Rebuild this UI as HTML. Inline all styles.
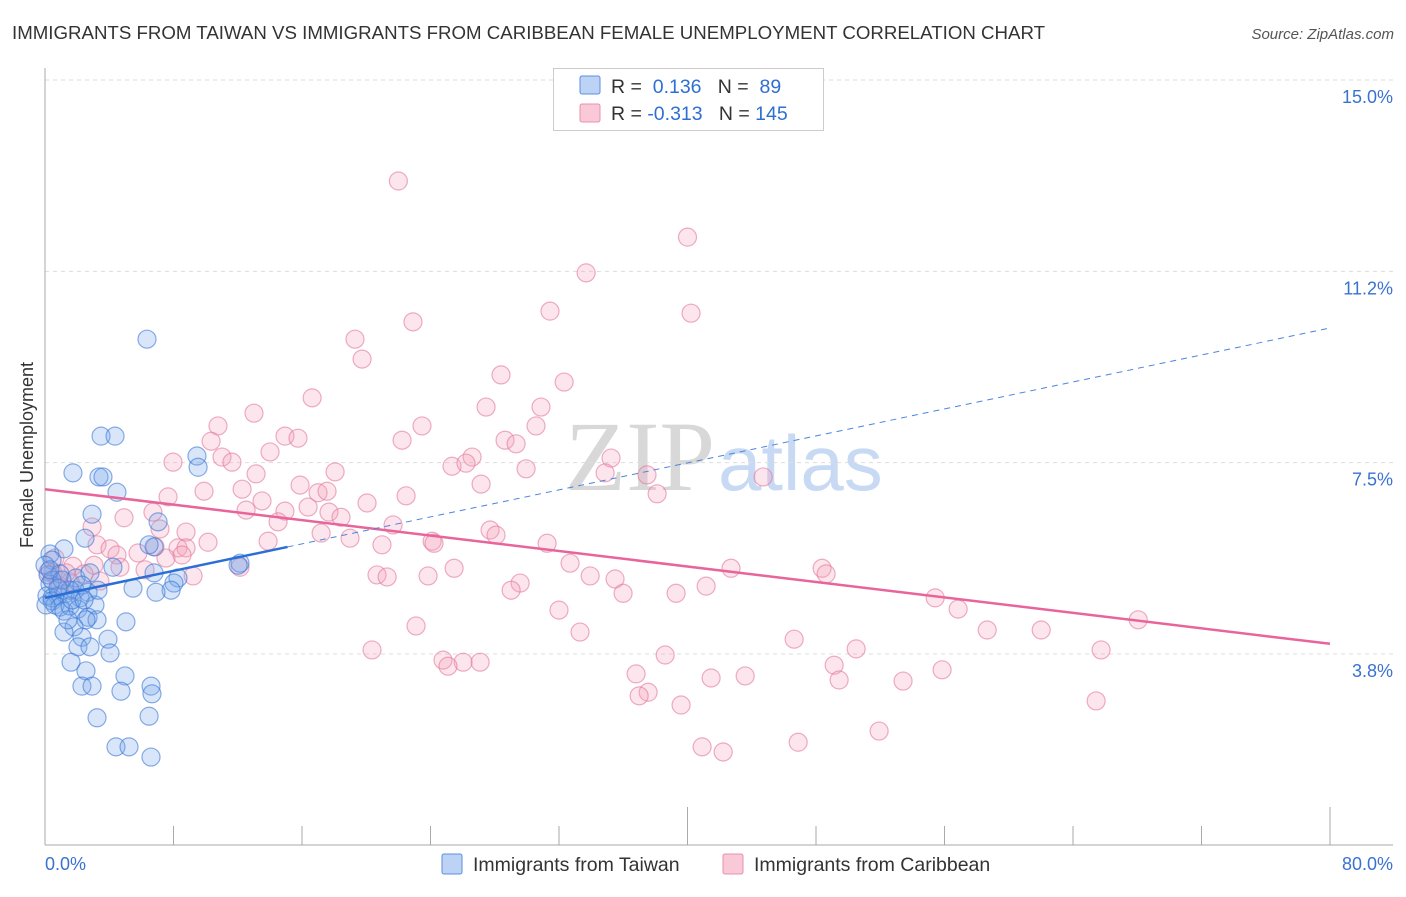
<!DOCTYPE html>
<html><head><meta charset="utf-8"><style>
body{margin:0;background:#fff;width:1406px;height:892px;overflow:hidden;font-family:"Liberation Sans",sans-serif;}
</style></head><body>
<svg width="1406" height="892" xmlns="http://www.w3.org/2000/svg">
<text x="12" y="39" font-size="18" fill="#333" textLength="1033" lengthAdjust="spacingAndGlyphs">IMMIGRANTS FROM TAIWAN VS IMMIGRANTS FROM CARIBBEAN FEMALE UNEMPLOYMENT CORRELATION CHART</text>
<text x="1394" y="39" font-size="15" fill="#555" font-style="italic" text-anchor="end">Source: ZipAtlas.com</text>
<text x="715" y="490" font-size="100" fill="#d8d8d8" text-anchor="end" font-family="Liberation Serif,serif">ZIP</text>
<text x="718" y="490" font-size="78" fill="#c8daf3">atlas</text>
<g id="grid"></g>
<g id="axes"></g>
<g id="pts"></g>
<g id="lines"></g>
<text transform="translate(33,455) rotate(-90)" font-size="18" fill="#333" text-anchor="middle">Female Unemployment</text>
<g>
<rect x="553.5" y="68.5" width="270" height="62" fill="#fff" stroke="#ccc"/>
<rect x="580" y="76" width="20" height="18" fill="#bcd3f5" stroke="#5b8fe0" rx="2"/>
<rect x="580" y="104" width="20" height="18" fill="#f9c9d8" stroke="#e890ad" rx="2"/>
<text x="611" y="93" font-size="19.5" fill="#333">R = <tspan fill="#2f6fd3">&#160;0.136</tspan>&#160;&#160;&#160;N = <tspan fill="#2f6fd3">&#160;89</tspan></text>
<text x="611" y="120" font-size="19.5" fill="#333">R = <tspan fill="#2f6fd3">-0.313</tspan>&#160;&#160;&#160;N = <tspan fill="#2f6fd3">145</tspan></text>
</g>
<g>
<rect x="442" y="854" width="20" height="20" fill="#bcd3f5" stroke="#5b8fe0" rx="2"/>
<text x="473" y="871" font-size="19.5" fill="#333">Immigrants from Taiwan</text>
<rect x="723" y="854" width="20" height="20" fill="#f9c9d8" stroke="#e890ad" rx="2"/>
<text x="754" y="871" font-size="19.5" fill="#333">Immigrants from Caribbean</text>
</g>
</svg>
<script>
const yTicks=[15.0,11.25,7.5,3.75];
const yTickLabels=["15.0%","11.2%","7.5%","3.8%"];
const xTicks=[0,8,16,24,32,40,48,56,64,72,80];
const xMajor=[40,80];
const taiwanX=[6.35,3.49,4.36,9.46,1.74,3.36,3.61,9.53,4.48,2.93,7.04,2.49,1.18,6.79,6.48,0.31,0.44,4.23,12.14,12.02,0.19,0.93,1.93,2.80,6.79,8.28,8.03,0.31,5.48,1.87,2.68,0.12,0.44,0.81,1.25,1.56,2.18,3.11,0.44,0.62,0.93,1.18,1.56,2.05,2.68,3.24,2.55,1.81,1.18,5.04,3.92,2.30,2.05,2.80,4.05,1.62,2.55,4.98,2.30,2.93,4.73,6.60,6.66,3.24,6.48,4.42,5.23,6.60,7.85,6.91,0.44,0,0.31,1.06,2.30,1.68,3.30,0.06,0.81,1.43,2.43];
const taiwanY=[9.92,8.02,8.02,7.63,7.30,7.22,7.22,7.41,6.92,6.49,6.34,6.02,5.81,5.85,5.89,5.71,5.59,5.45,5.53,5.49,5.30,5.32,5.24,5.34,5.34,5.24,5.14,5.12,5.04,5.0,4.96,4.89,4.85,4.89,4.93,5.0,4.85,4.71,4.79,4.71,4.67,4.59,4.69,4.63,4.47,4.42,4.42,4.28,4.18,4.38,4.04,4.08,3.89,3.89,3.77,3.59,3.42,3.32,3.12,3.12,3.02,3.12,2.97,2.50,2.53,1.93,1.93,1.73,5.0,4.96,5.20,5.49,5.40,5.20,5.10,4.81,5.0,4.71,5.04,4.42,4.81];
const caribX=[22.0,40.0,33.69,31.44,40.22,22.91,19.30,19.74,28.39,32.32,16.63,27.46,30.88,13.01,10.77,23.47,30.57,14.94,15.75,22.23,10.34,28.64,29.33,14.01,11.02,26.59,35.24,11.64,7.97,25.34,26.21,29.95,34.87,37.48,18.06,13.14,44.71,27.15,12.27,9.90,15.88,17.00,7.66,17.56,22.48,38.11,20.05,13.51,14.94,12.52,16.38,17.68,6.72,4.92,18.43,14.51,21.67,2.93,27.71,7.16,28.08,17.19,8.78,3.24,24.10,24.22,31.26,13.89,18.99,10.15,20.98,4.05,6.85,8.28,5.79,8.78,4.48,7.53,8.53,0.62,1.74,3.05,4.67,6.23,12.14,25.47,32.69,42.71,48.38,48.63,0.50,2.43,20.67,21.30,23.85,33.94,35.49,29.58,9.22,29.02,41.16,35.99,39.29,1.56,0.93,55.42,32.00,56.85,68.06,23.10,33.31,58.66,62.02,46.64,65.75,20.36,50.50,38.61,24.78,26.03,27.09,25.09,49.13,55.85,36.80,41.47,43.59,49.44,53.42,37.55,36.99,39.60,65.44,51.93,46.89,40.91,42.22,0.81,0.19,1.31,3.42];
const caribY=[13.02,11.92,11.22,10.47,10.43,10.26,9.92,9.53,9.22,9.08,8.77,8.59,8.59,8.47,8.22,8.22,8.22,8.02,7.98,7.94,7.92,7.94,7.87,7.71,7.61,7.61,7.59,7.51,7.51,7.43,7.49,7.38,7.30,7.26,7.32,7.28,7.22,7.08,6.98,6.94,7.06,6.91,6.83,6.94,6.85,6.89,6.71,6.75,6.55,6.57,6.63,6.53,6.53,6.42,6.43,6.34,6.28,6.24,6.18,6.20,6.08,6.12,6.14,5.89,5.96,5.92,5.92,5.96,6.02,5.94,5.89,5.81,5.85,5.83,5.73,5.83,5.69,5.63,5.69,5.63,5.47,5.49,5.45,5.40,5.45,5.43,5.53,5.43,5.43,5.32,5.34,5.32,5.30,5.26,5.28,5.28,5.22,5.14,5.28,5.0,5.08,4.94,4.94,5.16,5.08,4.85,4.61,4.63,4.42,4.30,4.18,4.22,4.22,4.04,3.83,3.83,3.85,3.73,3.63,3.59,3.59,3.51,3.53,3.44,3.36,3.28,3.32,3.24,3.22,3.0,2.93,2.75,2.83,2.24,2.02,1.93,1.83,5.20,5.36,5.34,5.18];
const taiwanFit=[4.85,10.14];
const caribFit=[6.98,3.95];
const taiwanSolidEnd=15.1;

const NS="http://www.w3.org/2000/svg";
const X0=45,X1=1330,YT=80,YB=654;
const sx=v=>X0+(v-0)/80*(X1-X0);
const sy=v=>YT+(15-v)/(15-3.75)*(YB-YT);
function mk(tag,attrs,parent){const e=document.createElementNS(NS,tag);for(const k in attrs)e.setAttribute(k,attrs[k]);document.getElementById(parent).appendChild(e);return e;}
yTicks.forEach((t,i)=>{
  const g=mk('line',{x1:X0,x2:1393,y1:sy(t),y2:sy(t),stroke:'#ddd','stroke-dasharray':'4,4'},'grid');
  
  
  const l=mk('text',{x:1393,y:sy(t)+23,'font-size':18,fill:'#3a72d0','text-anchor':'end'},'grid');
  l.textContent=yTickLabels[i];
  
  
});
let a=mk('line',{x1:X0,x2:X0,y1:68,y2:845,stroke:'#aaa'},'axes');


a=mk('line',{x1:X0,x2:1393,y1:845,y2:845,stroke:'#aaa'},'axes');


xTicks.forEach(t=>{
  const len=xMajor.includes(t)?38:19;
  const k=mk('line',{x1:sx(t),x2:sx(t),y1:845-len,y2:845,stroke:'#aaa'},'axes');
  
  
});
let t0=mk('text',{x:45,y:870,'font-size':18,fill:'#3a72d0'},'axes');t0.textContent='0.0%';


let t1=mk('text',{x:1393,y:870,'font-size':18,fill:'#3a72d0','text-anchor':'end'},'axes');t1.textContent='80.0%';


caribX.forEach((x,i)=>{
  const c=mk('circle',{cx:sx(x),cy:sy(caribY[i]),r:9,fill:'rgba(244,160,188,0.28)',stroke:'rgba(226,120,155,0.6)','stroke-width':1.2},'pts');
  
  
});
taiwanX.forEach((x,i)=>{
  const c=mk('circle',{cx:sx(x),cy:sy(taiwanY[i]),r:9,fill:'rgba(120,165,235,0.28)',stroke:'rgba(60,120,215,0.6)','stroke-width':1.2},'pts');
  
  
});
const fy=(f,x)=>f[0]+(f[1]-f[0])*x/80;
let L=mk('line',{x1:sx(0),y1:sy(caribFit[0]),x2:sx(80),y2:sy(caribFit[1]),stroke:'#e8649a','stroke-width':2.5},'lines');


L=mk('line',{x1:sx(0),y1:sy(taiwanFit[0]),x2:sx(taiwanSolidEnd),y2:sy(fy(taiwanFit,taiwanSolidEnd)),stroke:'#2b6fd6','stroke-width':2.5},'lines');


L=mk('line',{x1:sx(taiwanSolidEnd),y1:sy(fy(taiwanFit,taiwanSolidEnd)),x2:sx(80),y2:sy(taiwanFit[1]),stroke:'#4a85dc','stroke-width':1,'stroke-dasharray':'6,5'},'lines');


</script>
</body></html>
